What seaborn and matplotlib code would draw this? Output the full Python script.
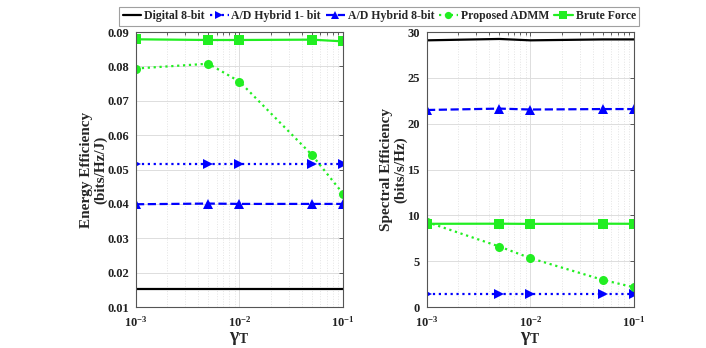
import numpy as np
import matplotlib
matplotlib.use('Agg')
import matplotlib.pyplot as plt
import matplotlib.ticker as mticker
import seaborn as sns

# data
gamma_t = [1e-3, 5e-3, 1e-2, 5e-2, 1e-1]
labels = ['Digital 8-bit', 'A/D Hybrid 1- bit', 'A/D Hybrid 8-bit', 'Proposed ADMM', 'Brute Force']

ee_digital = [0.0151, 0.0151, 0.0151, 0.0151, 0.0151]
ee_hyb1 = [0.0515, 0.0515, 0.0515, 0.0515, 0.0515]
ee_hyb8 = [0.0399, 0.0401, 0.0400, 0.0400, 0.0400]
ee_admm = [0.0794, 0.0808, 0.0756, 0.0543, 0.0430]
ee_brute = [0.0879, 0.0877, 0.0877, 0.0878, 0.0873]

se_digital = [29.1, 29.25, 29.1, 29.2, 29.2]
se_hyb1 = [1.46, 1.46, 1.46, 1.46, 1.46]
se_hyb8 = [21.5, 21.65, 21.55, 21.6, 21.6]
se_admm = [9.27, 6.6, 5.33, 2.96, 2.15]
se_brute = [9.08, 9.09, 9.07, 9.09, 9.08]

GREEN = '#22ee22'
BLUE = '#0000ff'
styles = [
    dict(color='black', linestyle='-', marker=None),
    dict(color=BLUE, linestyle=':', marker='>'),
    dict(color=BLUE, linestyle='--', marker='^'),
    dict(color=GREEN, linestyle=':', marker='o'),
    dict(color=GREEN, linestyle='-', marker='s'),
]

sns.set_theme(style='white')
plt.rcParams['font.family'] = ['Liberation Serif', 'DejaVu Serif']
plt.rcParams['font.weight'] = 'bold'
plt.rcParams['mathtext.fontset'] = 'custom'
plt.rcParams['mathtext.rm'] = 'Liberation Serif:bold'
plt.rcParams['mathtext.it'] = 'Liberation Serif:bold:italic'
plt.rcParams['mathtext.bf'] = 'Liberation Serif:bold'

fig = plt.figure(figsize=(7.06, 3.48), dpi=100)
ax1 = fig.add_axes([0.1926, 0.1178, 0.2932, 0.790])
ax2 = fig.add_axes([0.6048, 0.1178, 0.2932, 0.790])

def log_label(v, pos):
    return r'$\mathbf{10^{%d}}$' % int(round(np.log10(v)))

def draw(ax, series, ylim, yticks, ylabel):
    for vals, lab, st in zip(series, labels, styles):
        sns.lineplot(x=gamma_t, y=vals, ax=ax, label=lab, color=st['color'],
                     linestyle=st['linestyle'], marker=st['marker'],
                     markersize=6.5, markeredgewidth=0, linewidth=1.6)
    ax.set_xscale('log')
    ax.set_xlim(1e-3, 1e-1)
    ax.set_ylim(*ylim)
    ax.set_yticks(yticks)
    ax.xaxis.set_major_locator(mticker.LogLocator(base=10, numticks=5))
    ax.xaxis.set_major_formatter(mticker.FuncFormatter(log_label))
    ax.xaxis.set_minor_locator(mticker.LogLocator(base=10, subs=np.arange(2, 10), numticks=10))
    ax.xaxis.set_minor_formatter(mticker.NullFormatter())
    ax.grid(True, which='major', color='#dddddd', linewidth=0.7)
    ax.grid(True, which='minor', axis='x', color='#e4e4e4', linestyle=':', linewidth=0.7)
    ax.tick_params(which='both', direction='in', top=True, right=True, color='#444444',
                   labelsize=9, length=3, width=0.6, labelcolor='#222222')
    ax.tick_params(axis='y', pad=5)
    ax.tick_params(axis='x', pad=6)
    ax.tick_params(which='minor', length=2)
    for sp in ax.spines.values():
        sp.set_color('#555555')
        sp.set_linewidth(0.8)
    ax.set_ylabel(ylabel, fontsize=11, fontweight='bold', linespacing=1.1, labelpad=0)
    ax.set_xlabel(r'$\mathrm{\gamma}_\mathrm{T}$', fontsize=14, labelpad=0)
    ax.get_legend().remove()

draw(ax1, [ee_digital, ee_hyb1, ee_hyb8, ee_admm, ee_brute], (0.01, 0.09),
     [0.01, 0.02, 0.03, 0.04, 0.05, 0.06, 0.07, 0.08, 0.09], 'Energy Efficiency\n(bits/Hz/J)')
ax1.yaxis.set_major_formatter(mticker.FormatStrFormatter('%.2f'))
draw(ax2, [se_digital, se_hyb1, se_hyb8, se_admm, se_brute], (0, 30),
     [0, 5, 10, 15, 20, 25, 30], 'Spectral Efficiency\n(bits/s/Hz)')
for ax in (ax1, ax2):
    for lbl in ax.get_yticklabels() + ax.get_xticklabels():
        lbl.set_fontweight('bold')

handles, labs = ax1.get_legend_handles_labels()
leg = fig.legend(handles, labs, loc='upper center', bbox_to_anchor=(0.537, 0.997), ncol=5,
                 frameon=True, fancybox=False, edgecolor='#888888', markerscale=0.8,
                 handlelength=1.6, handletextpad=0.25, columnspacing=0.4, borderpad=0.3,
                 prop={'weight': 'bold', 'size': 8.5})
leg.get_frame().set_linewidth(0.8)

fig.savefig('out.png', dpi=100)
